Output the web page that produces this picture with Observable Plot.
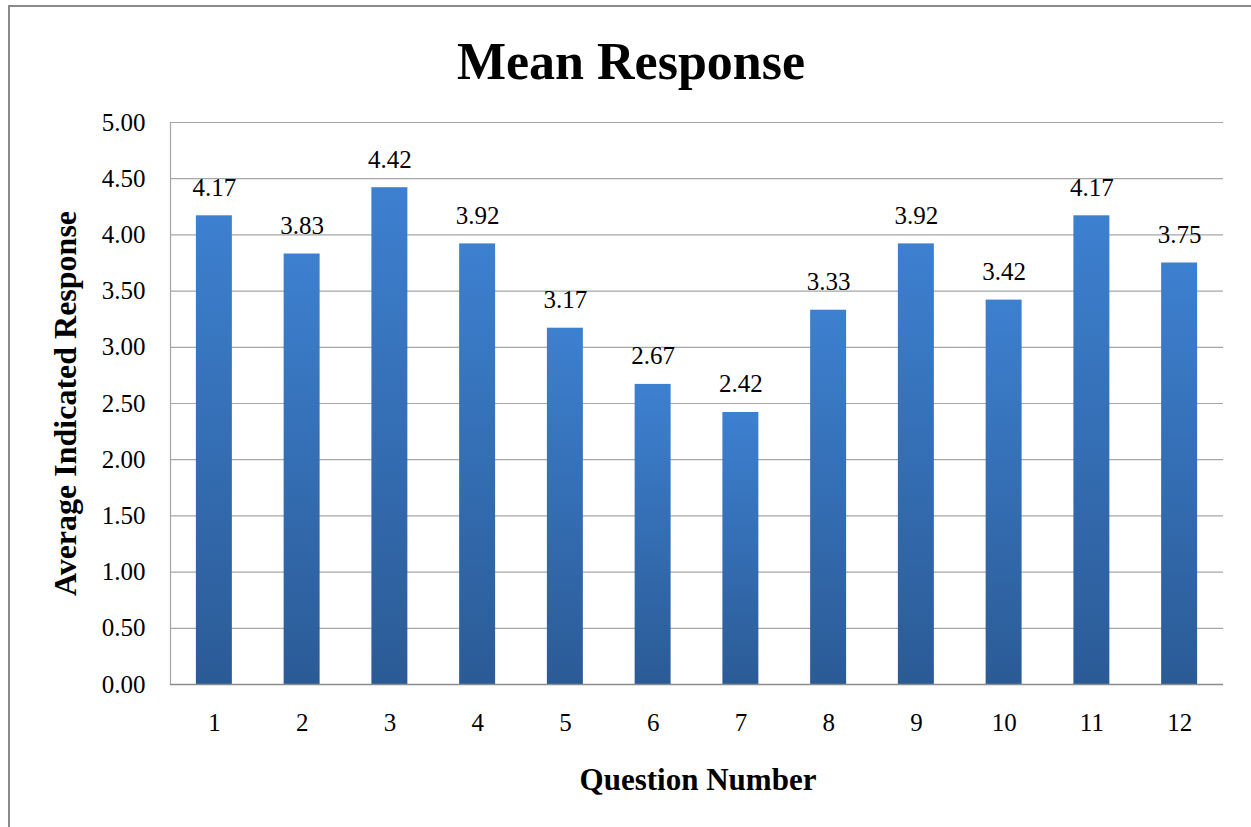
<!DOCTYPE html>
<html>
<head>
<meta charset="utf-8">
<script src="https://cdn.jsdelivr.net/npm/d3@7"></script>
<script src="https://cdn.jsdelivr.net/npm/@observablehq/plot@0.6"></script>
<style>
  html, body { margin: 0; padding: 0; background: #fff; overflow: hidden; }
  #wrap { position: relative; width: 1251px; height: 827px; overflow: hidden; }
  #frame { position: absolute; left: 8px; top: 5px; width: 1400px; height: 1000px; border: 2px solid #8a8a8a; box-sizing: border-box; }
  #chart { position: absolute; left: 0; top: 0; }
  #chart svg text { font-family: 'Liberation Serif', 'Times New Roman', serif; }
</style>
</head>
<body>
<div id="wrap"><div id="frame"></div><div id="chart"></div></div>
<script>
const questions = ["1","2","3","4","5","6","7","8","9","10","11","12"];
const means = [4.17, 3.83, 4.42, 3.92, 3.17, 2.67, 2.42, 3.33, 3.92, 3.42, 4.17, 3.75];
const yTicks = [0, 0.5, 1, 1.5, 2, 2.5, 3, 3.5, 4, 4.5, 5];
const title = "Mean Response";
const xLabel = "Question Number";
const yLabel = "Average Indicated Response";

const data = questions.map((q, i) => ({q, v: means[i]}));
const serif = "'Liberation Serif', 'Times New Roman', serif";

const plot = Plot.plot({
  width: 1251,
  height: 827,
  marginLeft: 170,
  marginRight: 28,
  marginTop: 122,
  marginBottom: 143,
  style: {fontFamily: serif, fontSize: "25px", color: "#000", background: "transparent"},
  x: {domain: questions, paddingInner: 0.59, paddingOuter: 0.295, round: false, label: null},
  y: {domain: [0, 5], label: null},
  marks: [
    Plot.gridY(yTicks, {stroke: "#a6a6a6", strokeOpacity: 1, strokeWidth: 1.2}),
    Plot.frame({anchor: "left", stroke: "#a6a6a6", strokeWidth: 1.2}),
    Plot.barY(data, {x: "q", y: "v", fill: "url(#barGrad)", style: "filter: drop-shadow(2px 2px 2px rgba(0,0,0,0.25))"}),
    Plot.ruleY([0], {stroke: "#8c8c8c", strokeWidth: 1.5}),
    Plot.text(data, {x: "q", y: "v", text: d => d.v.toFixed(2), lineAnchor: "middle", dy: -28, fontSize: 25, fontFamily: serif, fill: "#000"}),
    Plot.axisY(yTicks, {tickSize: 0, tickPadding: 25, tickFormat: d => d.toFixed(2), fontSize: 25, fontFamily: serif, fill: "#000"}),
    Plot.axisX({tickSize: 0, tickPadding: 29, fontSize: 25, fontFamily: serif, fill: "#000"}),
    Plot.text([title], {frameAnchor: "top", dy: -60, dx: -66, lineAnchor: "middle", fontSize: 52, fontWeight: "bold", fontFamily: serif, fill: "#000"}),
    Plot.text([xLabel], {frameAnchor: "bottom", dy: 96, dx: 1, lineAnchor: "middle", fontSize: 31, fontWeight: "bold", fontFamily: serif, fill: "#000"}),
    Plot.text([yLabel], {frameAnchor: "left", dx: -105, textAnchor: "middle", lineAnchor: "middle", rotate: -90, fontSize: 32, fontWeight: "bold", fontFamily: serif, fill: "#000"})
  ]
});

const ns = "http://www.w3.org/2000/svg";
const defs = document.createElementNS(ns, "defs");
defs.innerHTML = `<linearGradient id="barGrad" x1="0" y1="0" x2="0" y2="1">
  <stop offset="0" stop-color="#3d80d0"/>
  <stop offset="1" stop-color="#2b5b96"/>
</linearGradient>`;
plot.insertBefore(defs, plot.firstChild);
document.getElementById("chart").appendChild(plot);
</script>
</body>
</html>
